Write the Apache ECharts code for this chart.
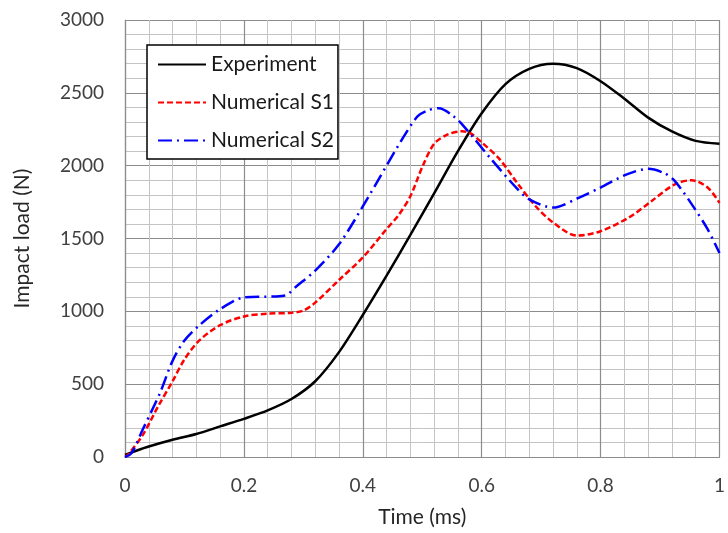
<!DOCTYPE html>
<html>
<head>
<meta charset="utf-8">
<script src="https://cdn.jsdelivr.net/npm/echarts@6/dist/echarts.min.js"></script>
<style>
  html, body { margin: 0; padding: 0; background: #fff; }
  #chart { width: 728px; height: 533px; }
</style>
</head>
<body>
<div id="chart"></div>
<script>
"use strict";
// time (ms) / impact load (N)
const experiment = [
  [0, 15], [0.02, 45], [0.04, 72], [0.08, 118], [0.12, 158], [0.16, 210],
  [0.2, 262], [0.24, 320], [0.28, 398], [0.32, 520], [0.36, 720], [0.4, 975],
  [0.44, 1245], [0.48, 1525], [0.52, 1810], [0.56, 2100], [0.6, 2360],
  [0.64, 2560], [0.68, 2665], [0.72, 2700], [0.76, 2670], [0.8, 2580],
  [0.84, 2460], [0.88, 2330], [0.92, 2235], [0.96, 2170], [1.0, 2150]
];
const numericalS1 = [
  [0, 0], [0.005, 15], [0.03, 152], [0.056, 350], [0.08, 520], [0.1, 670],
  [0.125, 800], [0.16, 905], [0.2, 965], [0.24, 984], [0.28, 990], [0.3, 1005],
  [0.32, 1060], [0.36, 1215], [0.4, 1370], [0.44, 1565], [0.46, 1660],
  [0.48, 1790], [0.5, 1990], [0.52, 2150], [0.542, 2213], [0.567, 2236],
  [0.58, 2225], [0.6, 2160], [0.63, 2045], [0.66, 1880], [0.69, 1725],
  [0.72, 1610], [0.76, 1520], [0.8, 1550], [0.85, 1650], [0.886, 1758],
  [0.925, 1872], [0.953, 1900], [0.98, 1850], [1.0, 1745]
];
const numericalS2 = [
  [0, 0], [0.011, 27], [0.03, 190], [0.047, 335], [0.06, 450], [0.08, 660],
  [0.1, 800], [0.125, 904], [0.16, 1015], [0.2, 1095], [0.25, 1102],
  [0.27, 1110], [0.29, 1177], [0.32, 1280], [0.36, 1460], [0.4, 1720],
  [0.43, 1930], [0.464, 2167], [0.492, 2338], [0.51, 2380], [0.528, 2395],
  [0.553, 2338], [0.57, 2270], [0.614, 2054], [0.658, 1849], [0.68, 1769],
  [0.72, 1712], [0.764, 1781], [0.8, 1850], [0.844, 1940], [0.88, 1978],
  [0.908, 1947], [0.925, 1894], [0.956, 1719], [0.98, 1564], [1.0, 1400]
];
const seriesNames = ['Experiment', 'Numerical S1', 'Numerical S2'];

const FONT = 'Lato';
const majorGrid = { lineStyle: { color: '#8c8c8c', width: 1.2 } };
const minorGrid = { show: true, lineStyle: { color: '#c4c4c4', width: 1 } };

const myChart = echarts.init(document.getElementById('chart'), null, { renderer: 'canvas' });

const option = {
  backgroundColor: '#fff',
  animation: false,
  grid: { left: 125, right: 2, top: 20, bottom: 74 },
  legend: {
    left: 147, top: 45,
    orient: 'vertical',
    data: seriesNames,
    itemWidth: 48, itemHeight: 14, itemGap: 17,
    padding: [9, 4, 8, 10],
    borderColor: '#000', borderWidth: 1.5, backgroundColor: '#fff',
    // hide the marker dot, keep only the line sample
    itemStyle: { opacity: 0 },
    textStyle: { fontFamily: FONT, fontSize: 21, color: '#1a1a1a' }
  },
  xAxis: {
    type: 'value', min: 0, max: 1, interval: 0.2,
    name: 'Time (ms)', nameLocation: 'middle', nameGap: 50,
    nameTextStyle: { fontFamily: FONT, fontSize: 21, color: '#262626' },
    axisLine: { show: true, lineStyle: { color: '#8c8c8c', width: 1.2 } },
    axisTick: { show: false },
    axisLabel: { fontFamily: FONT, fontSize: 19, color: '#404040', margin: 19,
      formatter: v => String(+v.toFixed(1)) },
    splitLine: majorGrid,
    minorTick: { show: false, splitNumber: 5 },
    minorSplitLine: minorGrid
  },
  yAxis: {
    type: 'value', min: 0, max: 3000, interval: 500,
    name: 'Impact load (N)', nameLocation: 'middle', nameGap: 92,
    nameTextStyle: { fontFamily: FONT, fontSize: 21, color: '#262626' },
    axisLine: { show: true, lineStyle: { color: '#8c8c8c', width: 1.2 } },
    axisTick: { show: false },
    axisLabel: { fontFamily: FONT, fontSize: 19, color: '#404040', margin: 21,
      formatter: v => String(v) },
    splitLine: majorGrid,
    minorTick: { show: false, splitNumber: 5 },
    minorSplitLine: minorGrid
  },
  series: [
    {
      name: seriesNames[0], type: 'line', smooth: 0.3, symbol: 'none',
      data: experiment,
      lineStyle: { color: '#000', width: 2.5, type: 'solid' },
      itemStyle: { color: '#000' }, z: 3
    },
    {
      name: seriesNames[1], type: 'line', smooth: 0.3, symbol: 'none',
      data: numericalS1,
      lineStyle: { color: '#ff0000', width: 2.5, type: [6, 3] },
      itemStyle: { color: '#ff0000' }, z: 4
    },
    {
      name: seriesNames[2], type: 'line', smooth: 0.3, symbol: 'none',
      data: numericalS2,
      lineStyle: { color: '#0000ff', width: 2.5, type: [14, 5, 2, 5] },
      itemStyle: { color: '#0000ff' }, z: 5
    }
  ]
};

myChart.setOption(option, true);
</script>
</body>
</html>
